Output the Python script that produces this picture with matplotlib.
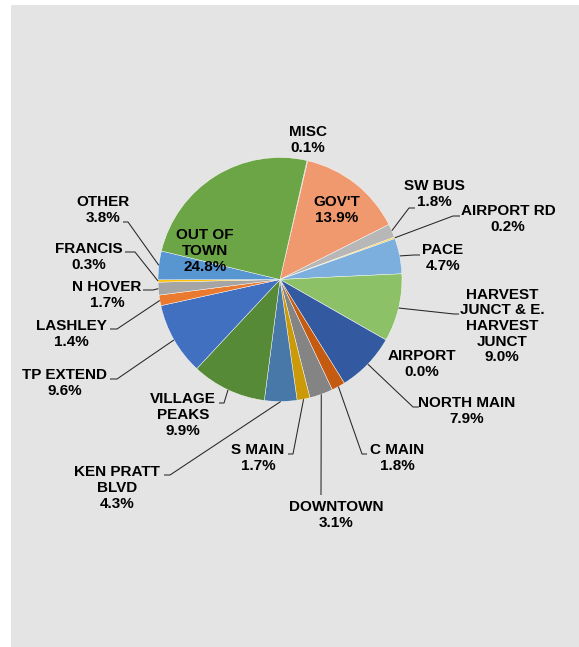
import numpy as np
import matplotlib.pyplot as plt
from matplotlib.patches import Rectangle

plt.rcParams['font.family'] = ['Liberation Sans', 'DejaVu Sans']

W, H = 579, 647

# slices, clockwise from the first one
names = ["MISC", "GOV'T", "SW BUS", "AIRPORT RD", "PACE",
         "HARVEST\nJUNCT & E.\nHARVEST\nJUNCT", "AIRPORT", "NORTH MAIN",
         "C MAIN", "DOWNTOWN", "S MAIN", "KEN PRATT\nBLVD", "VILLAGE\nPEAKS",
         "TP EXTEND", "LASHLEY", "N HOVER", "FRANCIS", "OTHER", "OUT OF\nTOWN"]
shares = [0.1, 13.9, 1.8, 0.2, 4.7, 9.0, 0.0, 7.9, 1.8, 3.1, 1.7, 4.3, 9.9,
          9.6, 1.4, 1.7, 0.3, 3.8, 24.8]
colors = ["#698ED0", "#F0996E", "#B7B7B7", "#FFCD33", "#7CAFDD", "#8CC168",
          "#335AA1", "#335AA1", "#C55A11", "#848484", "#CA9A09", "#4878A8",
          "#568A36", "#4270C0", "#EA7A30", "#A5A5A5", "#FFC000", "#5896D2",
          "#6CA545"]

# label centre (px), leader elbow (px), leader tail (px) -- None = no leader
label_pos = [(308, 140), (337, 210), (434, 194), (508, 219), (443, 258),
             (502, 326), (422, 364), (467, 411), (397, 458), (336, 515),
             (258, 458), (117, 488), (183, 415), (65, 383), (71, 334),
             (107, 295), (89, 257), (103, 210), (205, 251)]
elbows = [None, None, (409, 208), (453, 216), (414, 255), (454, 314), None,
          (413, 407), (362, 454), (321, 495), (293, 454), (170, 475),
          (224, 403), (117, 379), (117, 329), (153, 290), (135, 252),
          (128, 222), None]
tails = [None, None, (415, 208), (460, 216), (420, 255), (459, 314), None,
         (419, 407), (367, 454), (321, 495), (288, 454), (164, 475),
         (219, 403), (110, 379), (110, 329), (143, 290), (125, 252),
         (123, 222), None]


def px(x, y):
    return x, H - y


fig = plt.figure(figsize=(W / 100, H / 100), dpi=100, facecolor="white")
ax = fig.add_axes([0, 0, 1, 1])
ax.patch.set_alpha(0)

# grey chart panel
ax.add_patch(Rectangle((11, 0), W - 11, H - 5, facecolor="#E4E4E4",
                       edgecolor="none", zorder=0))

cx, cy = px(280, 279.5)
r = 122
wedges, _ = ax.pie(shares, colors=colors, startangle=77.2, counterclock=False,
                   center=(cx, cy), radius=r,
                   wedgeprops=dict(edgecolor="white", linewidth=0.3, zorder=2))

for i, w in enumerate(wedges):
    ax.text(*px(*label_pos[i]), f"{names[i]}\n{shares[i]:.1f}%",
            ha="center", va="center", multialignment="center",
            fontsize=11, fontweight="bold", color="black", linespacing=1.15,
            zorder=4)
    if elbows[i] is None:
        continue
    mid = np.deg2rad((w.theta1 + w.theta2) / 2)
    sx, sy = cx + r * np.cos(mid), cy + r * np.sin(mid)
    ex, ey = px(*elbows[i])
    tx, ty = px(*tails[i])
    ax.plot([sx, ex, tx], [sy, ey, ty], color="#262626", lw=0.75,
            solid_capstyle="butt", zorder=3)

ax.set_xlim(0, W)
ax.set_ylim(0, H)
ax.set_aspect("equal")
ax.axis("off")

fig.savefig("out.png", dpi=100, facecolor="white")
